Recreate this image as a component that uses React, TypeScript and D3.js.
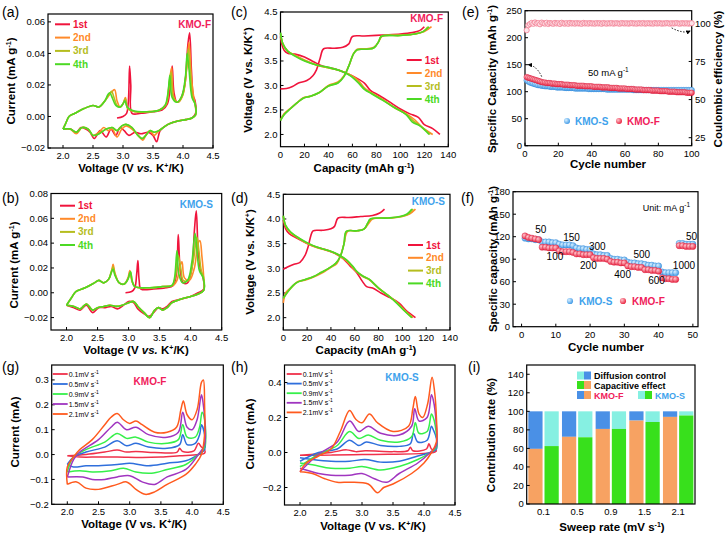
import React from "react";
import * as d3 from "d3";

const FONT = "'Liberation Sans', Arial, Helvetica, sans-serif";
type P = [number, number];

// ================= DATA =================
const cycleNames = ["1st", "2nd", "3rd", "4th"];
const cycleColors = ["#f0143c", "#ff8a2a", "#b5bd1e", "#4cd924"];

// (a) KMO-F CV, first 4 cycles
const aCycle1: P[] = [[2.9,-0.001],[3.0,0.0],[3.06,0.002],[3.09,0.01],[3.11,0.032],[3.13,0.02],[3.15,0.002],[3.3,0.002],[3.5,0.003],[3.65,0.004],[3.74,0.008],[3.79,0.02],[3.82,0.032],[3.85,0.015],[3.9,0.009],[3.97,0.012],[4.03,0.02],[4.08,0.045],[4.11,0.053],[4.14,0.03],[4.17,0.013],[4.2,0.01],[4.21,0.002],[4.15,-0.001],[4.05,-0.002],[3.9,-0.003],[3.75,-0.005],[3.62,-0.009],[3.56,-0.016],[3.5,-0.012],[3.42,-0.01],[3.3,-0.011],[3.2,-0.01],[3.1,-0.012],[3.02,-0.009],[2.95,-0.007],[2.88,-0.012],[2.8,-0.008],[2.72,-0.013],[2.62,-0.009],[2.52,-0.014],[2.45,-0.01],[2.38,-0.008],[2.3,-0.007],[2.22,-0.01],[2.12,-0.008],[2.0,-0.008]];
const aCycle2: P[] = [[2.0,-0.008],[2.05,-0.004],[2.1,0.0],[2.2,0.002],[2.35,0.005],[2.5,0.007],[2.6,0.006],[2.7,0.01],[2.8,0.015],[2.86,0.017],[2.9,0.01],[2.95,0.006],[3.0,0.008],[3.04,0.012],[3.08,0.005],[3.2,0.003],[3.4,0.003],[3.6,0.004],[3.72,0.008],[3.77,0.02],[3.81,0.031],[3.85,0.012],[3.92,0.009],[4.0,0.014],[4.06,0.03],[4.1,0.047],[4.14,0.025],[4.18,0.012],[4.2,0.008],[4.21,0.001],[4.15,-0.001],[4.05,-0.002],[3.9,-0.003],[3.75,-0.005],[3.6,-0.009],[3.52,-0.012],[3.45,-0.009],[3.38,-0.012],[3.33,-0.015],[3.25,-0.012],[3.15,-0.008],[3.05,-0.006],[2.98,-0.008],[2.9,-0.013],[2.82,-0.008],[2.75,-0.009],[2.68,-0.007],[2.6,-0.01],[2.5,-0.012],[2.42,-0.008],[2.32,-0.007],[2.22,-0.011],[2.12,-0.008],[2.0,-0.008]];
const aCycle3Up: P[] = [[2.0,-0.008],[2.05,-0.004],[2.1,0.0],[2.2,0.002],[2.35,0.005],[2.5,0.007],[2.6,0.006],[2.7,0.01],[2.77,0.014],[2.81,0.016],[2.85,0.012],[2.9,0.007],[2.96,0.006],[3.0,0.008],[3.04,0.011],[3.08,0.005],[3.2,0.003],[3.4,0.003],[3.6,0.004],[3.71,0.007],[3.76,0.018],[3.8,0.028],[3.84,0.012],[3.91,0.009],[3.99,0.013],[4.05,0.027],[4.09,0.043],[4.12,0.03],[4.16,0.012],[4.2,0.008],[4.21,0.001]];
const aCycle4Up: P[] = [[2.0,-0.008],[2.05,-0.004],[2.1,0.0],[2.2,0.002],[2.35,0.005],[2.5,0.007],[2.6,0.006],[2.7,0.01],[2.75,0.014],[2.78,0.015],[2.82,0.012],[2.88,0.007],[2.95,0.006],[3.0,0.008],[3.03,0.01],[3.07,0.006],[3.15,0.004],[3.4,0.003],[3.6,0.004],[3.7,0.007],[3.75,0.015],[3.78,0.026],[3.82,0.012],[3.9,0.009],[3.98,0.013],[4.04,0.025],[4.07,0.04],[4.1,0.03],[4.15,0.012],[4.2,0.008],[4.21,0.001]];
const aLower34: P[] = [[4.15,-0.001],[4.05,-0.002],[3.9,-0.003],[3.75,-0.005],[3.6,-0.009],[3.52,-0.01],[3.45,-0.009],[3.38,-0.012],[3.32,-0.014],[3.25,-0.012],[3.15,-0.007],[3.05,-0.005],[2.98,-0.006],[2.9,-0.009],[2.82,-0.007],[2.72,-0.008],[2.6,-0.011],[2.5,-0.012],[2.42,-0.008],[2.32,-0.007],[2.22,-0.01],[2.12,-0.008],[2.0,-0.008]];

// (b) KMO-S CV, first 4 cycles
const bCycle1: P[] = [[2.95,0.0],[3.05,0.001],[3.1,0.004],[3.13,0.015],[3.15,0.026],[3.17,0.01],[3.2,0.003],[3.4,0.003],[3.6,0.004],[3.72,0.006],[3.77,0.015],[3.8,0.047],[3.83,0.02],[3.88,0.008],[3.95,0.008],[4.02,0.02],[4.06,0.05],[4.09,0.066],[4.12,0.035],[4.16,0.018],[4.2,0.012],[4.21,0.003],[4.12,0.0],[4.0,-0.003],[3.85,-0.005],[3.7,-0.007],[3.62,-0.011],[3.55,-0.013],[3.48,-0.012],[3.42,-0.015],[3.33,-0.019],[3.25,-0.017],[3.15,-0.013],[3.08,-0.008],[3.0,-0.007],[2.92,-0.01],[2.82,-0.013],[2.72,-0.011],[2.62,-0.012],[2.52,-0.012],[2.42,-0.016],[2.32,-0.01],[2.22,-0.014],[2.12,-0.012],[2.0,-0.01]];
const bCycle2Up: P[] = [[2.0,-0.01],[2.08,-0.004],[2.15,0.001],[2.3,0.004],[2.45,0.008],[2.52,0.01],[2.6,0.008],[2.68,0.011],[2.73,0.018],[2.75,0.023],[2.78,0.016],[2.85,0.008],[2.93,0.007],[2.99,0.012],[3.02,0.018],[3.05,0.01],[3.1,0.005],[3.3,0.004],[3.55,0.005],[3.72,0.006],[3.78,0.01],[3.82,0.02],[3.86,0.025],[3.9,0.012],[3.98,0.01],[4.06,0.02],[4.12,0.04],[4.15,0.042],[4.18,0.03],[4.21,0.012],[4.21,0.002]];
const bCycle3Up: P[] = [[2.0,-0.01],[2.08,-0.004],[2.15,0.001],[2.3,0.004],[2.45,0.008],[2.52,0.01],[2.6,0.008],[2.68,0.011],[2.72,0.017],[2.75,0.021],[2.78,0.015],[2.85,0.008],[2.93,0.007],[2.99,0.011],[3.03,0.017],[3.06,0.009],[3.1,0.005],[3.3,0.004],[3.55,0.005],[3.7,0.006],[3.75,0.012],[3.8,0.03],[3.84,0.02],[3.88,0.01],[3.96,0.01],[4.04,0.025],[4.1,0.045],[4.13,0.035],[4.17,0.018],[4.21,0.012],[4.21,0.002]];
const bCycle4Up: P[] = [[2.0,-0.01],[2.08,-0.004],[2.15,0.001],[2.3,0.004],[2.45,0.008],[2.52,0.01],[2.6,0.008],[2.68,0.011],[2.72,0.016],[2.75,0.019],[2.78,0.014],[2.85,0.008],[2.93,0.007],[2.99,0.011],[3.03,0.017],[3.06,0.009],[3.1,0.005],[3.3,0.004],[3.55,0.005],[3.7,0.006],[3.74,0.012],[3.78,0.034],[3.81,0.015],[3.87,0.008],[3.95,0.01],[4.02,0.025],[4.07,0.048],[4.1,0.035],[4.14,0.018],[4.2,0.012],[4.21,0.002]];
const bLower234: P[] = [[4.12,-0.001],[4.0,-0.003],[3.85,-0.005],[3.7,-0.008],[3.62,-0.012],[3.55,-0.014],[3.48,-0.012],[3.42,-0.014],[3.34,-0.02],[3.25,-0.016],[3.15,-0.011],[3.08,-0.007],[3.0,-0.008],[2.9,-0.01],[2.8,-0.011],[2.7,-0.01],[2.6,-0.011],[2.5,-0.012],[2.42,-0.014],[2.32,-0.009],[2.22,-0.013],[2.12,-0.011],[2.0,-0.01]];

// (c) KMO-F charge / discharge
const cCharge1: P[] = [[0,2.93],[5,2.94],[10,2.98],[15,3.05],[22,3.1],[27,3.2],[30,3.32],[33,3.55],[36,3.75],[45,3.76],[52,3.78],[57,3.85],[60,4.0],[70,4.01],[85,4.03],[100,4.05],[110,4.08],[116,4.12],[120,4.2]];
const cDischarge1: P[] = [[0,4.0],[1,3.85],[3,3.72],[6,3.66],[12,3.64],[20,3.58],[28,3.48],[35,3.4],[45,3.34],[55,3.25],[62,3.17],[70,3.05],[75,2.9],[82,2.8],[90,2.68],[100,2.52],[108,2.42],[115,2.35],[120,2.2],[127,2.12],[133,2.0]];
const cCharge2: P[] = [[0,2.3],[3,2.42],[8,2.53],[14,2.65],[19,2.75],[25,2.78],[32,2.85],[40,3.0],[48,3.07],[53,3.2],[57,3.4],[61,3.65],[64,3.74],[72,3.75],[78,3.78],[82,3.9],[85,4.01],[100,4.03],[112,4.05],[120,4.1],[126,4.2]];
const cDischarge2: P[] = [[0,4.05],[2,3.85],[6,3.7],[12,3.62],[20,3.52],[30,3.42],[40,3.36],[50,3.3],[58,3.22],[65,3.1],[70,2.95],[76,2.85],[85,2.72],[95,2.55],[105,2.42],[112,2.3],[118,2.15],[127,2.0]];
const cCharge3: P[] = [[0,2.29],[3,2.41],[8,2.52],[14,2.65],[19,2.74],[25,2.78],[32,2.85],[40,2.99],[48,3.06],[53,3.19],[57,3.4],[61,3.65],[64,3.73],[72,3.74],[78,3.77],[82,3.9],[84,4.0],[100,4.02],[112,4.05],[119,4.1],[123,4.2]];
const cDischarge3: P[] = [[0,4.07],[2,3.85],[6,3.7],[12,3.61],[20,3.51],[30,3.42],[40,3.36],[50,3.3],[58,3.21],[65,3.07],[70,2.93],[76,2.84],[85,2.71],[95,2.55],[105,2.41],[111,2.27],[117,2.17],[125,2.0]];
const cCharge4: P[] = [[0,2.28],[3,2.4],[8,2.52],[14,2.65],[19,2.74],[25,2.78],[32,2.85],[40,2.99],[48,3.05],[53,3.18],[57,3.4],[61,3.65],[64,3.73],[72,3.74],[78,3.77],[82,3.9],[84,4.0],[100,4.02],[112,4.05],[119,4.1],[124,4.2]];
const cDischarge4: P[] = [[0,4.08],[2,3.85],[6,3.7],[12,3.6],[20,3.5],[30,3.42],[40,3.37],[50,3.3],[58,3.2],[65,3.05],[70,2.92],[76,2.83],[85,2.7],[95,2.55],[105,2.4],[110,2.25],[116,2.18],[124,2.0]];

// (d) KMO-S charge / discharge
const dCharge1: P[] = [[0,2.98],[4,3.03],[9,3.08],[14,3.12],[18,3.25],[21,3.45],[23,3.65],[25,3.76],[33,3.77],[40,3.8],[43,3.85],[46,4.02],[55,4.03],[65,4.05],[75,4.07],[81,4.12],[85,4.2]];
const dDischarge1: P[] = [[0,3.98],[2,3.8],[5,3.7],[10,3.63],[18,3.53],[25,3.45],[35,3.38],[42,3.32],[50,3.2],[56,3.05],[62,2.9],[66,2.75],[70,2.63],[75,2.6],[82,2.5],[90,2.4],[97,2.3],[103,2.15],[111,2.0]];
const dCharge2: P[] = [[0,2.3],[2,2.5],[6,2.6],[12,2.73],[18,2.76],[25,2.82],[32,2.9],[40,3.02],[45,3.1],[48,3.25],[51,3.5],[54,3.75],[62,3.76],[68,3.8],[72,3.92],[75,4.0],[90,4.02],[100,4.05],[106,4.1],[111,4.2]];
const dDischarge2: P[] = [[0,4.05],[2,3.85],[6,3.72],[12,3.62],[20,3.5],[28,3.42],[38,3.35],[46,3.27],[53,3.15],[58,3.02],[62,2.92],[67,2.83],[72,2.77],[80,2.6],[88,2.45],[95,2.32],[102,2.15],[109,2.0]];
const dCharge3: P[] = [[0,2.38],[3,2.5],[8,2.64],[12,2.72],[18,2.77],[25,2.83],[32,2.92],[38,3.0],[44,3.1],[48,3.25],[51,3.5],[53,3.75],[62,3.76],[68,3.8],[71,3.92],[74,4.0],[89,4.02],[99,4.05],[105,4.1],[109,4.2]];
const dDischarge3: P[] = [[0,4.06],[2,3.86],[6,3.73],[12,3.63],[20,3.51],[28,3.43],[38,3.36],[46,3.28],[53,3.17],[58,3.04],[62,2.93],[67,2.84],[72,2.78],[80,2.6],[88,2.45],[95,2.31],[102,2.14],[108,2.0]];
const dCharge4: P[] = [[0,2.4],[3,2.5],[8,2.65],[12,2.72],[18,2.77],[25,2.83],[32,2.92],[38,3.0],[44,3.1],[48,3.25],[51,3.5],[53,3.75],[62,3.76],[68,3.8],[71,3.92],[73,4.0],[88,4.02],[98,4.05],[104,4.1],[108,4.2]];
const dDischarge4: P[] = [[0,4.07],[2,3.87],[6,3.74],[12,3.63],[20,3.52],[28,3.43],[38,3.36],[46,3.28],[53,3.17],[58,3.05],[62,2.93],[67,2.84],[72,2.78],[80,2.6],[88,2.45],[95,2.3],[102,2.13],[108,2.0]];

// (e) cycling at 50 mA g-1
const eCapF = [127,126,125,124,123,122,121,120,119,118,117,117,116,116,116,115,115,115,114,114,114,114,113,113,113,113,112,112,112,112,111,111,111,111,111,110,110,110,110,110,109,109,109,109,109,108,108,108,108,108,107,107,107,107,107,106,106,106,106,106,105,105,105,105,105,104,104,104,104,104,103,103,103,103,103,102,102,102,102,102,101,101,101,101,101,100,100,100,100,100,99,99,99,99,99,99,98,98,98,98];
const eCapS = [121,119,117,116,115,114,113,112,112,111,111,110,110,110,109,109,109,109,108,108,108,108,108,107,107,107,107,107,107,106,106,106,106,106,106,106,106,105,105,105,105,105,105,105,105,105,105,105,104,104,104,104,104,104,104,104,104,104,104,104,104,104,104,104,103,103,103,103,103,103,103,103,103,103,103,103,103,103,103,103,103,103,103,103,103,103,103,103,103,103,103,103,103,103,103,103,103,103,103,103];
const eCE = [95.5,98.8,99.6,100.3,99.7,100.6,99.9,100.2,99.4,100.5,100.1,99.8,100.4,99.6,100.2,100.0,99.7,100.3,99.9,100.1,99.6,100.4,100.0,99.8,100.2,99.7,100.3,99.9,100.1,99.8,100.2,99.9,100.0,99.7,100.3,99.9,100.1,99.8,100.2,99.9,100.0,99.8,100.2,99.9,100.1,99.7,100.2,100.0,99.8,100.1,99.9,100.2,99.8,100.0,100.1,99.9,99.8,100.2,100.0,99.9,100.1,99.8,100.0,100.2,99.9,100.0,99.8,100.1,100.0,99.9,100.2,99.8,100.0,100.1,99.9,100.0,99.8,100.2,99.9,100.0,100.1,99.8,100.0,99.9,100.2,100.0,99.8,100.1,99.9,100.0,100.2,99.9,99.8,100.1,100.0,99.9,100.1,99.8,100.0,100.1];

// (f) rate capability
const fCapF = [121,119,118,117,116,106,106,105,105,105,101,100,100,100,99,97,97,96,96,96,92,91,91,91,90,87,86,86,85,85,81,80,80,79,79,76,76,75,75,74,65,64,64,63,63,108,108,107,107,107];
const fCapS = [118,117,117,116,116,113,113,113,112,112,110,109,109,109,108,105,104,104,103,103,97,96,96,95,95,91,90,90,89,89,86,85,85,84,84,83,82,82,81,81,73,72,72,72,72,111,111,110,110,110];
const fRateLabels = ["50","100","150","200","300","400","500","600","1000","50"];
// anchor of each current-density label: [cycle, capacity]
const fRateLabelAt: P[] = [[5.6,125],[9.75,88.7],[14.6,114],[19.5,77.6],[22.1,102],[29.5,65.6],[35.1,91],[39.4,56.3],[47.4,76.7],[49.6,115.3]];

// (g) KMO-F CV at various sweep rates
const rateNames = ["0.1mV s", "0.5mV s", "0.9mV s", "1.5mV s", "2.1mV s"];
const rateColors = ["#f0304a", "#2f6fdc", "#36f04a", "#a035c0", "#ff5a1e"];
const gRate01: P[] = [[2.0,-0.005],[2.3,0.0],[2.6,0.01],[2.8,0.018],[2.95,0.01],[3.1,0.012],[3.4,0.008],[3.76,0.01],[3.8,0.025],[3.85,0.012],[4.03,0.015],[4.1,0.045],[4.15,0.03],[4.2,0.02],[4.2,0.005],[4.1,0.0],[3.8,-0.005],[3.5,-0.01],[3.2,-0.012],[2.8,-0.01],[2.5,-0.01],[2.2,-0.01],[2.0,-0.005]];
const gRate05: P[] = [[2.0,-0.04],[2.1,-0.01],[2.3,0.01],[2.6,0.03],[2.8,0.055],[2.95,0.035],[3.1,0.045],[3.3,0.03],[3.6,0.025],[3.8,0.04],[3.85,0.08],[3.92,0.04],[4.05,0.045],[4.12,0.08],[4.15,0.12],[4.2,0.08],[4.2,0.02],[4.1,0.0],[3.9,-0.025],[3.6,-0.035],[3.3,-0.045],[3.0,-0.035],[2.8,-0.04],[2.5,-0.045],[2.3,-0.045],[2.1,-0.05],[2.0,-0.04]];
const gRate09: P[] = [[2.0,-0.07],[2.1,-0.01],[2.3,0.02],[2.6,0.05],[2.8,0.085],[2.95,0.065],[3.1,0.07],[3.3,0.05],[3.6,0.045],[3.78,0.06],[3.85,0.12],[3.92,0.07],[4.05,0.07],[4.12,0.11],[4.16,0.17],[4.2,0.14],[4.2,0.03],[4.1,0.0],[3.9,-0.04],[3.6,-0.06],[3.35,-0.075],[3.1,-0.07],[2.9,-0.055],[2.7,-0.065],[2.4,-0.07],[2.2,-0.065],[2.0,-0.07]];
const gRate15: P[] = [[2.0,-0.09],[2.1,-0.02],[2.2,0.01],[2.5,0.06],[2.7,0.11],[2.8,0.13],[2.95,0.1],[3.1,0.11],[3.3,0.08],[3.6,0.07],[3.78,0.09],[3.85,0.17],[3.92,0.11],[4.0,0.1],[4.08,0.14],[4.15,0.24],[4.18,0.2],[4.2,0.15],[4.2,0.04],[4.1,0.0],[3.9,-0.06],[3.6,-0.09],[3.4,-0.12],[3.2,-0.11],[3.0,-0.085],[2.8,-0.09],[2.6,-0.1],[2.4,-0.1],[2.25,-0.09],[2.0,-0.09]];
const gRate21: P[] = [[2.0,-0.12],[2.0,-0.05],[2.1,-0.01],[2.2,0.02],[2.4,0.06],[2.6,0.12],[2.7,0.15],[2.8,0.165],[2.9,0.14],[3.0,0.125],[3.1,0.135],[3.2,0.12],[3.4,0.09],[3.6,0.09],[3.75,0.11],[3.82,0.18],[3.86,0.215],[3.92,0.16],[4.0,0.14],[4.08,0.18],[4.15,0.29],[4.18,0.3],[4.2,0.2],[4.2,0.08],[4.15,0.0],[4.05,-0.04],[3.9,-0.08],[3.6,-0.12],[3.4,-0.15],[3.25,-0.16],[3.1,-0.14],[2.95,-0.11],[2.8,-0.12],[2.5,-0.14],[2.3,-0.135],[2.15,-0.11],[2.0,-0.12]];

// (h) KMO-S CV at various sweep rates
const hRate01: P[] = [[2.0,-0.015],[2.5,0.0],[2.75,0.015],[2.9,0.005],[3.05,0.01],[3.5,0.005],[3.74,0.01],[3.78,0.03],[3.82,0.01],[4.04,0.02],[4.08,0.05],[4.12,0.02],[4.2,0.01],[4.15,0.0],[4.0,-0.005],[3.5,-0.01],[3.0,-0.012],[2.5,-0.015],[2.0,-0.015]];
const hRate05: P[] = [[2.0,-0.05],[2.3,0.0],[2.6,0.02],[2.8,0.07],[2.95,0.04],[3.07,0.06],[3.3,0.04],[3.6,0.035],[3.78,0.05],[3.83,0.11],[3.9,0.06],[4.05,0.07],[4.12,0.15],[4.15,0.13],[4.2,0.08],[4.2,0.02],[4.1,0.0],[3.9,-0.02],[3.6,-0.05],[3.3,-0.055],[3.05,-0.04],[2.8,-0.05],[2.5,-0.05],[2.2,-0.04],[2.0,-0.03]];
const hRate09: P[] = [[2.0,-0.08],[2.3,-0.01],[2.6,0.04],[2.8,0.12],[2.95,0.08],[3.1,0.1],[3.3,0.07],[3.6,0.06],[3.8,0.09],[3.86,0.17],[3.92,0.11],[4.05,0.12],[4.12,0.22],[4.15,0.2],[4.2,0.1],[4.2,0.03],[4.1,0.0],[3.9,-0.04],[3.6,-0.08],[3.3,-0.1],[3.0,-0.08],[2.8,-0.09],[2.5,-0.09],[2.2,-0.07],[2.0,-0.06]];
const hRate15: P[] = [[2.0,-0.11],[2.3,-0.01],[2.6,0.06],[2.8,0.18],[2.95,0.12],[3.1,0.15],[3.3,0.11],[3.6,0.1],[3.8,0.15],[3.85,0.25],[3.92,0.18],[4.05,0.2],[4.12,0.33],[4.15,0.3],[4.2,0.15],[4.2,0.04],[4.1,0.0],[3.9,-0.06],[3.6,-0.12],[3.4,-0.17],[3.2,-0.15],[3.0,-0.12],[2.8,-0.13],[2.5,-0.13],[2.3,-0.12],[2.0,-0.09]];
const hRate21: P[] = [[2.0,-0.11],[2.1,-0.06],[2.3,-0.02],[2.5,0.02],[2.65,0.12],[2.8,0.24],[2.9,0.19],[3.0,0.17],[3.12,0.22],[3.25,0.17],[3.5,0.12],[3.75,0.15],[3.82,0.25],[3.86,0.32],[3.92,0.22],[3.98,0.2],[4.06,0.28],[4.13,0.43],[4.17,0.35],[4.2,0.2],[4.2,0.06],[4.12,0.0],[4.0,-0.06],[3.8,-0.12],[3.5,-0.18],[3.35,-0.2],[3.25,-0.23],[3.1,-0.18],[2.8,-0.17],[2.6,-0.17],[2.4,-0.15],[2.2,-0.12],[2.0,-0.11]];

// (i) contribution ratios
const sweepRates = ["0.1", "0.5", "0.9", "1.5", "2.1"];
const capFractionF = [59.5, 72.5, 81, 90, 94];
const capFractionS = [62.5, 72, 81, 88.5, 95.5];

// ================= HELPERS =================
const lineGen = (xs: any, ys: any) =>
  d3.line<P>().x(d => xs(d[0])).y(d => ys(d[1])).curve(d3.curveCatmullRom.alpha(0.5));

function Sup({ t, s = 7, rest }: { t: string; s?: number; rest?: string }) {
  return (
    <>
      <tspan dy={-4} fontSize={s}>{t}</tspan>
      {rest ? <tspan dy={4}>{rest}</tspan> : null}
    </>
  );
}

function Axes(props: {
  xs: any; ys: any; xTicks: number[]; yTicks: number[];
  xFmt: (v: number) => string; yFmt: (v: number) => string;
}) {
  const { xs, ys, xTicks, yTicks, xFmt, yFmt } = props;
  const [x0, x1] = xs.range();
  const [yb, yt] = ys.range();
  return (
    <g fontFamily={FONT}>
      <rect x={x0} y={yt} width={x1 - x0} height={yb - yt} fill="none" stroke="#000" strokeWidth={1.2} />
      {xTicks.map(t => (
        <g key={"x" + t}>
          <line x1={xs(t)} x2={xs(t)} y1={yb} y2={yb - 3} stroke="#000" strokeWidth={1} />
          <text x={xs(t)} y={yb + 11} textAnchor="middle" fontSize={9.5}>{xFmt(t)}</text>
        </g>
      ))}
      {yTicks.map(t => (
        <g key={"y" + t}>
          <line x1={x0} x2={x0 + 3} y1={ys(t)} y2={ys(t)} stroke="#000" strokeWidth={1} />
          <text x={x0 - 3} y={ys(t) + 3.3} textAnchor="end" fontSize={9.5}>{yFmt(t)}</text>
        </g>
      ))}
    </g>
  );
}

function YTitle({ x, y, children }: { x: number; y: number; children: any }) {
  return (
    <text transform={`translate(${x},${y}) rotate(-90)`} textAnchor="middle" fontFamily={FONT}
      fontWeight="bold" fontSize={11.5}>{children}</text>
  );
}
function XTitle({ x, y, children }: { x: number; y: number; children: any }) {
  return (
    <text x={x} y={y} textAnchor="middle" fontFamily={FONT} fontWeight="bold" fontSize={11.5}>{children}</text>
  );
}
function PanelLabel({ x, y, t }: { x: number; y: number; t: string }) {
  return <text x={x} y={y} fontFamily={FONT} fontSize={14}>{t}</text>;
}

function CycleLegend({ x, y, dy }: { x: number; y: number; dy: number }) {
  return (
    <g fontFamily={FONT}>
      {cycleNames.map((n, i) => (
        <g key={n}>
          <line x1={x} x2={x + 15} y1={y + i * dy} y2={y + i * dy} stroke={cycleColors[i]} strokeWidth={2} />
          <text x={x + 18} y={y + i * dy + 3.5} fontSize={10} fontWeight="bold" fill={cycleColors[i]}>{n}</text>
        </g>
      ))}
    </g>
  );
}

function RateLegend({ x, y, dy }: { x: number; y: number; dy: number }) {
  return (
    <g fontFamily={FONT}>
      {rateNames.map((n, i) => (
        <g key={n}>
          <line x1={x} x2={x + 15} y1={y + i * dy} y2={y + i * dy} stroke={rateColors[i]} strokeWidth={1.8} />
          <text x={x + 16} y={y + i * dy + 2.5} fontSize={7}>{n}<tspan dy={-3} fontSize={5}>-1</tspan></text>
        </g>
      ))}
    </g>
  );
}

const f2 = d3.format(".2f");
const f1 = d3.format(".1f");
const f0 = d3.format("d");
const KMOF = "#f0205a";
const KMOS = "#3ea2ec";

// ================= APP =================
export default function App() {
  const axA = d3.scaleLinear().domain([1.75, 4.5]).range([48, 213]);
  const ayA = d3.scaleLinear().domain([-0.02, 0.065]).range([148, 14]);
  const lA = lineGen(axA, ayA);
  const aCurves = [aCycle1, aCycle2, [...aCycle3Up, ...aLower34], [...aCycle4Up, ...aLower34]];

  const axB = d3.scaleLinear().domain([1.75, 4.5]).range([51, 221.7]);
  const ayB = d3.scaleLinear().domain([-0.03, 0.08]).range([330, 193.5]);
  const lB = lineGen(axB, ayB);
  const bCurves = [bCycle1, [...bCycle2Up, ...bLower234], [...bCycle3Up, ...bLower234], [...bCycle4Up, ...bLower234]];

  const axC = d3.scaleLinear().domain([0, 140]).range([280.5, 448.3]);
  const ayC = d3.scaleLinear().domain([1.75, 4.5]).range([146.7, 12]);
  const lC = lineGen(axC, ayC);
  const cCurves = [[cCharge1, cDischarge1], [cCharge2, cDischarge2], [cCharge3, cDischarge3], [cCharge4, cDischarge4]];

  const axD = d3.scaleLinear().domain([0, 140]).range([283.3, 450]);
  const ayD = d3.scaleLinear().domain([1.75, 4.5]).range([330, 194.3]);
  const lD = lineGen(axD, ayD);
  const dCurves = [[dCharge1, dDischarge1], [dCharge2, dDischarge2], [dCharge3, dDischarge3], [dCharge4, dDischarge4]];

  const axE = d3.scaleLinear().domain([0, 100]).range([525, 691.7]);
  const ayE = d3.scaleLinear().domain([0, 250]).range([145.7, 10.7]);
  const ayE2 = d3.scaleLinear().domain([19.75, 108.3]).range([145.7, 10.7]);

  const axF = d3.scaleLinear().domain([-2.5, 51.5]).range([513, 698]);
  const ayF = d3.scaleLinear().domain([0, 180]).range([326.7, 191.7]);

  const axG = d3.scaleLinear().domain([1.75, 4.5]).range([51.7, 223.3]);
  const ayG = d3.scaleLinear().domain([-0.2, 0.36]).range([504.3, 365]);
  const lG = lineGen(axG, ayG);
  const gCurves = [gRate01, gRate05, gRate09, gRate15, gRate21];

  const axH = d3.scaleLinear().domain([1.75, 4.5]).range([284.5, 455]);
  const ayH = d3.scaleLinear().domain([-0.3, 0.5]).range([505, 365]);
  const lH = lineGen(axH, ayH);
  const hCurves = [hRate01, hRate05, hRate09, hRate15, hRate21];

  const axI = d3.scaleBand<string>().domain(sweepRates).range([526.7, 695]).paddingInner(0).paddingOuter(0);
  const subI = d3.scaleBand<string>().domain(["F", "S"]).range([0, axI.bandwidth()]).paddingInner(0.12).paddingOuter(0.1);
  const ayI = d3.scaleLinear().domain([0, 150]).range([504, 365]);

  const cycleIdx = d3.range(1, 101);
  const rateIdx = d3.range(1, 51);
  const fLegendY = 301;

  return (
    <svg width={728} height={537} style={{ display: "block", position: "absolute", left: 0, top: 0 }}>
      <defs>
        <radialGradient id="gS" cx="0.35" cy="0.35" r="0.7">
          <stop offset="0" stopColor="#d6efff" />
          <stop offset="1" stopColor="#3d98e6" />
        </radialGradient>
        <radialGradient id="gF" cx="0.35" cy="0.35" r="0.7">
          <stop offset="0" stopColor="#ffc4cc" />
          <stop offset="1" stopColor="#e8203c" />
        </radialGradient>
        <marker id="arr" viewBox="0 0 6 6" refX="5" refY="3" markerWidth="5" markerHeight="5" orient="auto">
          <path d="M0,0 L6,3 L0,6 z" fill="#000" />
        </marker>
      </defs>
      <rect width={728} height={537} fill="#fff" />

      {/* ===== (a) ===== */}
      <PanelLabel x={2} y={17} t="(a)" />
      <Axes xs={axA} ys={ayA} xTicks={[2, 2.5, 3, 3.5, 4, 4.5]} yTicks={[-0.02, 0, 0.02, 0.04, 0.06]} xFmt={f1} yFmt={f2} />
      {aCurves.map((c, i) => (
        <path key={i} d={lA(c as P[]) || ""} fill="none" stroke={cycleColors[i]} strokeWidth={1.6} />
      ))}
      <CycleLegend x={55} y={24.3} dy={13.3} />
      <text x={211} y={28} textAnchor="end" fontFamily={FONT} fontSize={10} fontWeight="bold" fill={KMOF}>KMO-F</text>
      <YTitle x={15} y={81}>Current (mA g<Sup t="-1" rest=")" /></YTitle>
      <XTitle x={131} y={172}>Voltage (V <tspan fontStyle="italic">vs.</tspan> K<Sup t="+" rest="/K)" /></XTitle>

      {/* ===== (b) ===== */}
      <PanelLabel x={2} y={203} t="(b)" />
      <Axes xs={axB} ys={ayB} xTicks={[2, 2.5, 3, 3.5, 4, 4.5]} yTicks={[-0.02, 0, 0.02, 0.04, 0.06, 0.08]} xFmt={f1} yFmt={f2} />
      {bCurves.map((c, i) => (
        <path key={i} d={lB(c as P[]) || ""} fill="none" stroke={cycleColors[i]} strokeWidth={1.6} />
      ))}
      <CycleLegend x={60} y={205.7} dy={13.1} />
      <text x={213} y={208} textAnchor="end" fontFamily={FONT} fontSize={10} fontWeight="bold" fill={KMOS}>KMO-S</text>
      <YTitle x={18} y={265}>Current (mA g<Sup t="-1" rest=")" /></YTitle>
      <XTitle x={136} y={354}>Voltage (V <tspan fontStyle="italic">vs.</tspan> K<Sup t="+" rest="/K)" /></XTitle>

      {/* ===== (c) ===== */}
      <PanelLabel x={231} y={17} t="(c)" />
      <Axes xs={axC} ys={ayC} xTicks={[0, 20, 40, 60, 80, 100, 120, 140]} yTicks={[2, 2.5, 3, 3.5, 4, 4.5]} xFmt={f0} yFmt={f1} />
      {cCurves.map((pair, i) => (
        <g key={i}>
          {pair.map((c, j) => (
            <path key={j} d={lC(c as P[]) || ""} fill="none" stroke={cycleColors[i]} strokeWidth={1.6} />
          ))}
        </g>
      ))}
      <CycleLegend x={406.7} y={60} dy={13} />
      <text x={443} y={22} textAnchor="end" fontFamily={FONT} fontSize={10} fontWeight="bold" fill={KMOF}>KMO-F</text>
      <YTitle x={252} y={80}>Voltage (V vs. K/K<Sup t="+" rest=")" /></YTitle>
      <XTitle x={364} y={172}>Capacity (mAh g<Sup t="-1" rest=")" /></XTitle>

      {/* ===== (d) ===== */}
      <PanelLabel x={231} y={203} t="(d)" />
      <Axes xs={axD} ys={ayD} xTicks={[0, 20, 40, 60, 80, 100, 120, 140]} yTicks={[2, 2.5, 3, 3.5, 4, 4.5]} xFmt={f0} yFmt={f1} />
      {dCurves.map((pair, i) => (
        <g key={i}>
          {pair.map((c, j) => (
            <path key={j} d={lD(c as P[]) || ""} fill="none" stroke={cycleColors[i]} strokeWidth={1.6} />
          ))}
        </g>
      ))}
      <CycleLegend x={408} y={245} dy={12.8} />
      <text x={445} y={205} textAnchor="end" fontFamily={FONT} fontSize={10} fontWeight="bold" fill={KMOS}>KMO-S</text>
      <YTitle x={254} y={262}>Voltage (V vs. K/K<Sup t="+" rest=")" /></YTitle>
      <XTitle x={366} y={354}>Capacity (mAh g<Sup t="-1" rest=")" /></XTitle>

      {/* ===== (e) ===== */}
      <PanelLabel x={462} y={17} t="(e)" />
      <Axes xs={axE} ys={ayE} xTicks={[0, 20, 40, 60, 80, 100]} yTicks={[0, 50, 100, 150, 200, 250]} xFmt={f0} yFmt={f0} />
      {[25, 50, 75, 100].map(t => (
        <g key={t} fontFamily={FONT}>
          <line x1={691.7} x2={688.7} y1={ayE2(t)} y2={ayE2(t)} stroke="#000" />
          <text x={695} y={ayE2(t) + 3.3} fontSize={9.5}>{t}</text>
        </g>
      ))}
      {cycleIdx.map((c, i) => (
        <circle key={"ce" + c} cx={axE(c)} cy={ayE2(eCE[i])} r={2.6} fill="#fde3e8" stroke="#f27c92" strokeWidth={0.8} />
      ))}
      {cycleIdx.map((c, i) => (
        <circle key={"s" + c} cx={axE(c)} cy={ayE(eCapS[i])} r={2.8} fill="url(#gS)" stroke="#2f86d6" strokeWidth={0.4} />
      ))}
      {cycleIdx.map((c, i) => (
        <circle key={"f" + c} cx={axE(c)} cy={ayE(eCapF[i])} r={2.8} fill="url(#gF)" stroke="#d8163a" strokeWidth={0.4} />
      ))}
      <path d={`M ${axE(10)} ${ayE(128)} Q ${axE(7)} ${ayE(148)} ${axE(2)} ${ayE(150)}`} fill="none" stroke="#000" strokeWidth={0.9} strokeDasharray="1.5,1.5" markerEnd="url(#arr)" />
      <path d={`M ${axE(88)} ${ayE2(97)} Q ${axE(95)} ${ayE2(93)} ${axE(99)} ${ayE2(95)}`} fill="none" stroke="#000" strokeWidth={0.9} strokeDasharray="1.5,1.5" markerEnd="url(#arr)" />
      <text x={axE(50)} y={ayE(130)} textAnchor="middle" fontFamily={FONT} fontSize={9.5}>50 mA g<Sup t="-1" s={6.5} /></text>
      <circle cx={567} cy={121} r={3} fill="url(#gS)" />
      <text x={575} y={124.5} fontFamily={FONT} fontSize={10} fontWeight="bold" fill={KMOS}>KMO-S</text>
      <circle cx={619} cy={121} r={3} fill="url(#gF)" />
      <text x={627} y={124.5} fontFamily={FONT} fontSize={10} fontWeight="bold" fill={KMOF}>KMO-F</text>
      <YTitle x={496} y={79}>Specific Capacity (mAh g<Sup t="-1" rest=")" /></YTitle>
      <YTitle x={722} y={79}>Coulombic efficiency (%)</YTitle>
      <XTitle x={608} y={168}>Cycle number</XTitle>

      {/* ===== (f) ===== */}
      <PanelLabel x={461} y={203} t="(f)" />
      <Axes xs={axF} ys={ayF} xTicks={[0, 10, 20, 30, 40, 50]} yTicks={[0, 30, 60, 90, 120, 150, 180]} xFmt={f0} yFmt={f0} />
      {rateIdx.map((c, i) => (
        <circle key={"fs" + c} cx={axF(c)} cy={ayF(fCapS[i])} r={3.1} fill="url(#gS)" stroke="#2f86d6" strokeWidth={0.4} />
      ))}
      {rateIdx.map((c, i) => (
        <circle key={"ff" + c} cx={axF(c)} cy={ayF(fCapF[i])} r={3.1} fill="url(#gF)" stroke="#d8163a" strokeWidth={0.4} />
      ))}
      {fRateLabels.map((t, i) => (
        <text key={i} x={axF(fRateLabelAt[i][0])} y={ayF(fRateLabelAt[i][1])} textAnchor="middle" fontFamily={FONT} fontSize={10}>{t}</text>
      ))}
      <text x={690} y={211} textAnchor="end" fontFamily={FONT} fontSize={9}>Unit: mA g<Sup t="-1" s={6.5} /></text>
      <circle cx={570} cy={fLegendY} r={3.1} fill="url(#gS)" />
      <text x={579} y={fLegendY + 3.5} fontFamily={FONT} fontSize={10} fontWeight="bold" fill={KMOS}>KMO-S</text>
      <circle cx={623} cy={fLegendY} r={3.1} fill="url(#gF)" />
      <text x={632} y={fLegendY + 3.5} fontFamily={FONT} fontSize={10} fontWeight="bold" fill={KMOF}>KMO-F</text>
      <YTitle x={497} y={259}>Specific capacity (mAh g<Sup t="-1" rest=")" /></YTitle>
      <XTitle x={606} y={351}>Cycle number</XTitle>

      {/* ===== (g) ===== */}
      <PanelLabel x={2} y={372} t="(g)" />
      <Axes xs={axG} ys={ayG} xTicks={[2, 2.5, 3, 3.5, 4, 4.5]} yTicks={[-0.2, -0.1, 0, 0.1, 0.2, 0.3]} xFmt={f1} yFmt={f1} />
      {gCurves.map((c, i) => (
        <path key={i} d={lG(c) || ""} fill="none" stroke={rateColors[i]} strokeWidth={1.5} />
      ))}
      <RateLegend x={52.7} y={374} dy={10} />
      <text x={150} y={385} textAnchor="middle" fontFamily={FONT} fontSize={10} fontWeight="bold" fill={KMOF}>KMO-F</text>
      <YTitle x={19} y={432}>Current (mA)</YTitle>
      <XTitle x={134} y={528}>Voltage (V vs. K<Sup t="+" rest="/K)" /></XTitle>

      {/* ===== (h) ===== */}
      <PanelLabel x={231} y={372} t="(h)" />
      <Axes xs={axH} ys={ayH} xTicks={[2, 2.5, 3, 3.5, 4, 4.5]} yTicks={[-0.2, 0, 0.2, 0.4]} xFmt={f1} yFmt={f1} />
      {hCurves.map((c, i) => (
        <path key={i} d={lH(c) || ""} fill="none" stroke={rateColors[i]} strokeWidth={1.5} />
      ))}
      <RateLegend x={286.7} y={374} dy={9.6} />
      <text x={402} y={381} textAnchor="middle" fontFamily={FONT} fontSize={10} fontWeight="bold" fill={KMOS}>KMO-S</text>
      <YTitle x={254} y={434}>Current (mA)</YTitle>
      <XTitle x={373} y={530}>Voltage (V vs. K<Sup t="+" rest="/K)" /></XTitle>

      {/* ===== (i) ===== */}
      <PanelLabel x={468} y={372} t="(i)" />
      {sweepRates.map((r, i) => {
        const bx = axI(r)!;
        const fx = bx + subI("F")!;
        const sx = bx + subI("S")!;
        const w = subI.bandwidth();
        return (
          <g key={r}>
            <rect x={fx} y={ayI(100)} width={w} height={ayI(capFractionF[i]) - ayI(100)} fill="#4a90e6" />
            <rect x={fx} y={ayI(capFractionF[i])} width={w} height={ayI(0) - ayI(capFractionF[i])} fill="#f7a262" />
            <rect x={sx} y={ayI(100)} width={w} height={ayI(capFractionS[i]) - ayI(100)} fill="#86f0e2" />
            <rect x={sx} y={ayI(capFractionS[i])} width={w} height={ayI(0) - ayI(capFractionS[i])} fill="#38e01c" />
          </g>
        );
      })}
      <Axes xs={d3.scaleLinear().domain([0, 1]).range([526.7, 695])} ys={ayI} xTicks={[]} yTicks={[0, 20, 40, 60, 80, 100, 120, 140]} xFmt={f0} yFmt={f0} />
      {sweepRates.map(r => (
        <text key={r} x={axI(r)! + axI.bandwidth() / 2} y={515} textAnchor="middle" fontFamily={FONT} fontSize={9.5}>{r}</text>
      ))}
      <g fontFamily={FONT} fontSize={9} fontWeight="bold">
        <rect x={577} y={371.5} width={7} height={8} fill="#86f0e2" />
        <rect x={584} y={371.5} width={7} height={8} fill="#4a90e6" />
        <text x={594} y={379}>Diffusion control</text>
        <rect x={577} y={381} width={7} height={8} fill="#38e01c" />
        <rect x={584} y={381} width={7} height={8} fill="#f7a262" />
        <text x={594} y={388.5}>Capacitive effect</text>
        <rect x={577} y={391} width={7} height={8} fill="#4a90e6" />
        <rect x={584} y={391} width={7} height={8} fill="#f7a262" />
        <text x={594} y={398.5} fill={KMOF}>KMO-F</text>
        <rect x={638} y={391} width={7} height={8} fill="#86f0e2" />
        <rect x={645} y={391} width={7} height={8} fill="#38e01c" />
        <text x={655} y={398.5} fill={KMOS}>KMO-S</text>
      </g>
      <YTitle x={495} y={435}>Contribution rate (%)</YTitle>
      <XTitle x={612} y={531}>Sweep rate (mV s<Sup t="-1" rest=")" /></XTitle>
    </svg>
  );
}
